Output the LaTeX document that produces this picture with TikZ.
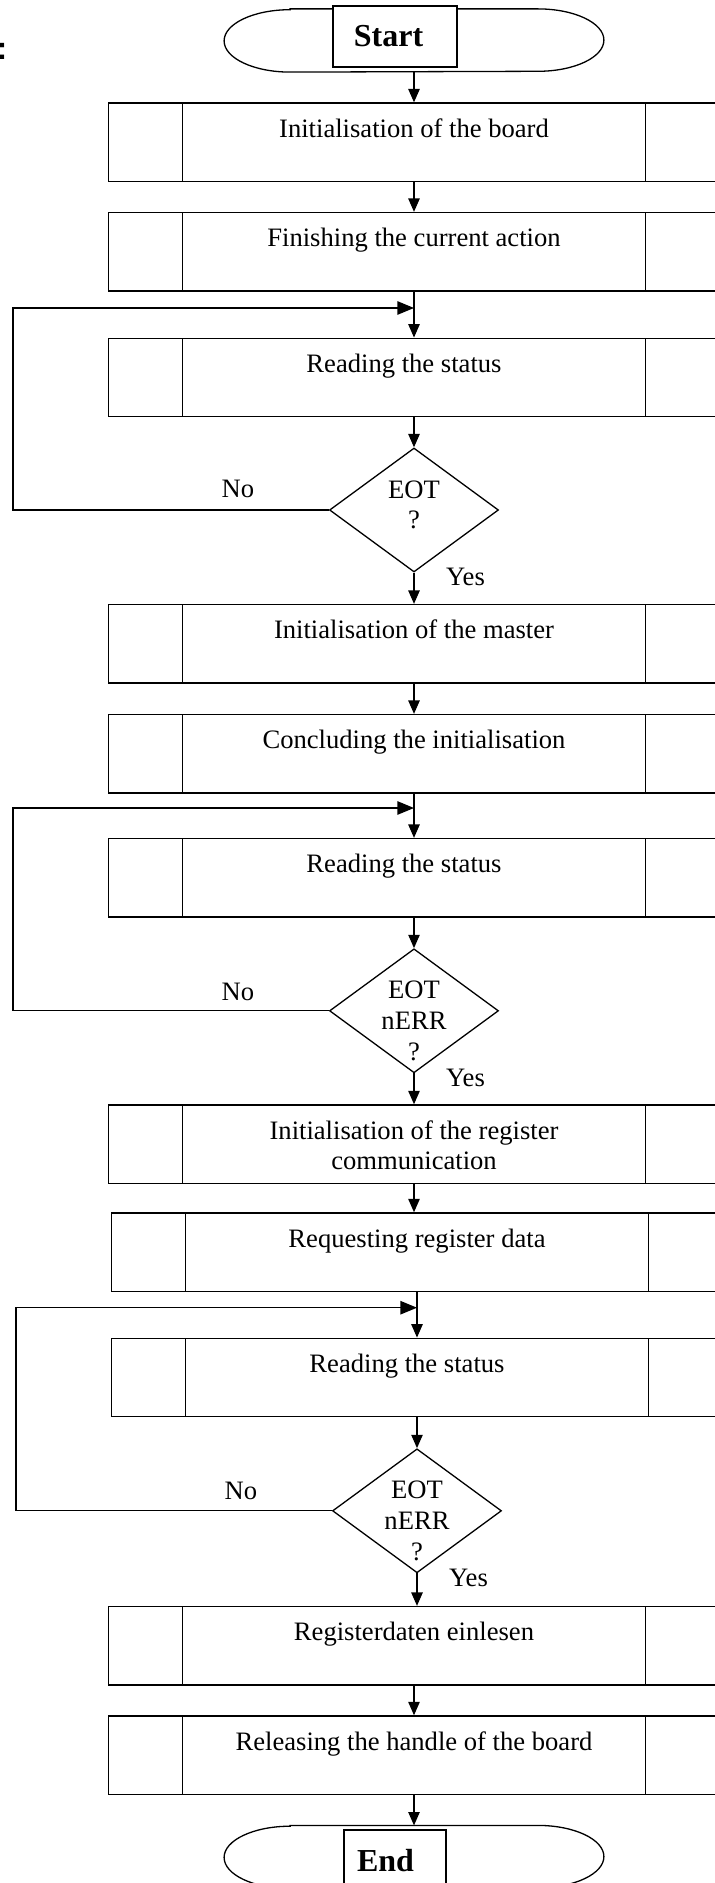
\documentclass[tikz,border=0pt]{standalone}
\usepackage{fontspec}
\setmainfont{Liberation Serif}
\newfontfamily\arialfont{Liberation Sans}
\usetikzlibrary{arrows.meta,shapes.geometric,positioning}

\newcommand{\capsule}[1]{%
  \draw[line width=0.65pt] ([xshift=33pt]#1.north west) -- ([xshift=-33pt]#1.north east)
    arc[start angle=90, end angle=-90, x radius=33pt, y radius=15.6pt]
    -- ([xshift=33pt]#1.south west)
    arc[start angle=270, end angle=90, x radius=33pt, y radius=15.6pt] -- cycle;}

\tikzset{
  txt/.style={font=\fontsize{13.3}{15.35}\selectfont},
  proc/.style={txt, draw, rectangle, line width=0.65pt, minimum width=305.5pt,
    inner sep=0pt, text height=17.15pt, text depth=22.15pt, align=center,
    path picture={\draw[line width=0.65pt]
      ([xshift=37.15pt]path picture bounding box.north west) -- ([xshift=37.15pt]path picture bounding box.south west)
      ([xshift=-37.15pt]path picture bounding box.north east) -- ([xshift=-37.15pt]path picture bounding box.south east);}},
  decision/.style={draw, diamond, line width=0.65pt, minimum width=84.5pt, minimum height=62pt, inner sep=0pt},
  dtext/.style={txt, align=center, inner sep=0pt},
  lbl/.style={txt, inner sep=0pt},
  term/.style={minimum width=189.5pt, minimum height=31.2pt, inner sep=0pt},
  termlbl/.style={draw, fill=white, line width=0.65pt, minimum height=30.5pt, inner sep=0pt,
    font=\fontsize{16}{19}\selectfont\bfseries},
  flow/.style={-{Triangle[length=6.7pt,width=5.7pt]}, line width=0.65pt},
  back/.style={-{Triangle[length=8.3pt,width=6.7pt]}, line width=0.65pt}
}

\begin{document}
\begin{tikzpicture}[x=0.5pt, y=-0.5pt, on grid]
  \useasboundingbox (0,0) rectangle (714,1883);

  \node[font=\arialfont\bfseries\fontsize{16}{19}\selectfont, inner sep=0pt] (colon) at (2,51.5) {:};

  \node[term] (start) at (414,40.5) {};
  \capsule{start}
  \node[termlbl, minimum width=62pt] (startlbl) at (395,36.5) {Start\hspace*{6.5pt}};

  \node[proc] (p1) at (414,142.3) {Initialisation of the board};
  \node[proc] (p2) at (414,251.8) {Finishing the current action};
  \coordinate (j1) at (414,308);
  \coordinate (l1) at (13,308);
  \node[proc] (p3) at (414,377.5) {Reading the status\hspace*{10pt}};
  \node[decision] (d1) at (414,510) {};
  \node[dtext] (d1t) [above=2.5pt of d1] {EOT\\?};
  \node[lbl] (no1) at ([xshift=-45.5pt, yshift=10.5pt]d1.west) {No};
  \node[lbl] (yes1) at ([xshift=25.75pt, yshift=-2pt]d1.south) {Yes};

  \node[proc] (p4) at (414,643.8) {Initialisation of the master};
  \node[proc] (p5) at (414,753.8) {Concluding the initialisation};
  \coordinate (j2) at (414,808);
  \coordinate (l2) at (13,808);
  \node[proc] (p6) at (414,877.8) {Reading the status\hspace*{10pt}};
  \node[decision] (d2) at (414,1010.8) {};
  \node[dtext] (d2t) [below=5pt of d2] {EOT\\nERR\\?};
  \node[lbl] (no2) at ([xshift=-45.5pt, yshift=9.5pt]d2.west) {No};
  \node[lbl] (yes2) at ([xshift=25.75pt, yshift=-2.3pt]d2.south) {Yes};

  \node[proc, text height=32.5pt, text depth=6.8pt] (p7) at (414,1144.2) {Initialisation of the register\\communication};
  \node[proc] (p8) at (417,1252.2) {Requesting register data};
  \coordinate (j3) at (417,1307.7);
  \coordinate (l3) at (16,1307.7);
  \node[proc] (p9) at (417,1377.5) {Reading the status\hspace*{10pt}};
  \node[decision] (d3) at (417,1510.8) {};
  \node[dtext] (d3t) [below=5pt of d3] {EOT\\nERR\\?};
  \node[lbl] (no3) at ([xshift=-45.5pt, yshift=10pt]d3.west) {No};
  \node[lbl] (yes3) at ([xshift=25.75pt, yshift=-2.3pt]d3.south) {Yes};

  \node[proc] (p10) at (414,1645.8) {Registerdaten einlesen};
  \node[proc] (p11) at (414,1755.2) {Releasing the handle of the board};

  \node[term] (stop) at (414,1857) {};
  \capsule{stop}
  \node[termlbl, minimum width=51pt] (stoplbl) at (395,1860.5) {End\hspace*{9.5pt}};

  \path[flow]
    (start) edge (p1)
    (p1) edge (p2)
    (p2) edge (p3)
    (p3) edge (d1)
    (d1) edge (p4)
    (p4) edge (p5)
    (p5) edge (p6)
    (p6) edge (d2)
    (d2) edge (p7)
    (p7.south) edge (p7.south |- p8.north)
    (p8) edge (p9)
    (p9) edge (d3)
    (d3.south) edge (d3.south |- p10.north)
    (p10) edge (p11)
    (p11) edge (stop);

  \draw[back] (d1.west) -| (l1) -- (j1);
  \draw[back] (d2.west) -| (l2) -- (j2);
  \draw[back] (d3.west) -| (l3) -- (j3);
\end{tikzpicture}
\end{document}
